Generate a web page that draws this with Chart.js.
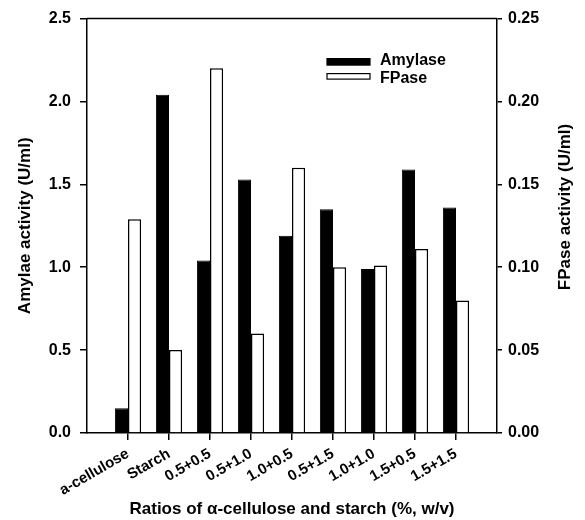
<!DOCTYPE html>
<html><head><meta charset="utf-8">
<script src="https://cdn.jsdelivr.net/npm/chart.js@4/dist/chart.umd.min.js"></script>
<style>html,body{margin:0;padding:0;background:#fff}#wrap{width:585px;height:520px}</style>
</head><body><div id="wrap"><canvas id="c" width="585" height="520"></canvas></div>
<script>
const categories = ['a-cellulose','Starch','0.5+0.5','0.5+1.0','1.0+0.5','0.5+1.5','1.0+1.0','1.5+0.5','1.5+1.5'];
const amylase = [0.15, 2.04, 1.04, 1.53, 1.19, 1.35, 0.99, 1.59, 1.36];
const fpase = [0.129, 0.05, 0.22, 0.06, 0.16, 0.10, 0.101, 0.111, 0.08];
const leftTicks = [0, 0.5, 1.0, 1.5, 2.0, 2.5];
const rightTicks = [0, 0.05, 0.10, 0.15, 0.20, 0.25];
const seriesNames = ['Amylase', 'FPase'];
const rightTitle = 'FPase activity (U/ml)';

const FONT = "'Liberation Sans', Arial, sans-serif";
const labels = [''].concat(categories, ['']);
const pad = arr => [null].concat(arr, [null]);

const frame = {
  id: 'frame',
  afterDraw(chart) {
    const {ctx, chartArea: a} = chart;
    ctx.save();
    ctx.strokeStyle = '#000';
    ctx.lineWidth = 1.5;
    ctx.beginPath();
    ctx.moveTo(a.left, a.top);
    ctx.lineTo(a.right, a.top);
    ctx.stroke();
    // legend
    const ds = chart.data.datasets;
    const bx = a.left + 240, bw = 43;
    const rows = [{y: a.top + 40, h: 6.5, ty: a.top + 42}, {y: a.top + 55, h: 5.5, ty: a.top + 60}];
    ds.forEach((d, i) => {
      const r = rows[i];
      ctx.fillStyle = d.backgroundColor;
      ctx.fillRect(bx, r.y, bw, r.h);
      ctx.lineWidth = 1.2;
      ctx.strokeStyle = '#000';
      ctx.strokeRect(bx, r.y, bw, r.h);
      ctx.fillStyle = '#000';
      ctx.font = "bold 16px " + FONT;
      ctx.textBaseline = 'middle';
      ctx.textAlign = 'left';
      ctx.fillText(d.label, bx + 53, r.ty);
    });
    // right axis title, reading bottom-to-top
    ctx.translate(565, 207);
    ctx.rotate(-Math.PI / 2);
    ctx.font = "bold 17px " + FONT;
    ctx.textAlign = 'center';
    ctx.textBaseline = 'middle';
    ctx.fillText(rightTitle, 0, 0);
    ctx.restore();
  }
};

new Chart(document.getElementById('c'), {
  type: 'bar',
  data: {
    labels: labels,
    datasets: [
      {label: seriesNames[0], data: pad(amylase), yAxisID: 'y', backgroundColor: '#000', borderColor: '#000', borderWidth: 1},
      {label: seriesNames[1], data: pad(fpase), yAxisID: 'y2', backgroundColor: '#fff', borderColor: '#000', borderWidth: 1.5}
    ]
  },
  plugins: [frame],
  options: {
    responsive: false,
    animation: false,
    layout: {padding: {top: 18, left: 0, right: 0, bottom: 0}},
    categoryPercentage: 0.64,
    barPercentage: 1.0,
    plugins: {legend: {display: false}, tooltip: {enabled: false}},
    scales: {
      x: {
        type: 'category',
        offset: false,
        afterFit(s) { s.height = 87; },
        grid: {offset: false, drawOnChartArea: false, drawTicks: true, tickLength: 7, lineWidth: 1.5,
               color: c => (c.index === 0 || c.index === labels.length - 1) ? 'rgba(0,0,0,0)' : '#000'},
        border: {display: true, color: '#000', width: 1.5},
        ticks: {autoSkip: false, minRotation: 30, maxRotation: 30, padding: 5, color: '#000',
                font: {family: FONT, size: 15, weight: 'bold'}},
        title: {display: true, text: 'Ratios of \u03b1-cellulose and starch (%, w/v)', color: '#000',
                font: {family: FONT, size: 17, weight: 'bold'}, padding: {top: 0, bottom: 0}}
      },
      y: {
        position: 'left',
        min: 0, max: 2.5,
        afterFit(s) { s.width = 87; },
        afterBuildTicks(s) { s.ticks = leftTicks.map(v => ({value: v})); },
        grid: {drawOnChartArea: false, drawTicks: true, tickLength: 7, lineWidth: 1.5, color: '#000'},
        border: {display: true, color: '#000', width: 1.5},
        ticks: {padding: 9, color: '#000', font: {family: FONT, size: 16, weight: 'bold'},
                callback: v => Number(v).toFixed(1)},
        title: {display: true, text: 'Amylae activity (U/ml)', color: '#000',
                font: {family: FONT, size: 17, weight: 'bold'}, padding: {top: 15, bottom: 0}}
      },
      y2: {
        position: 'right',
        min: 0, max: 0.25,
        afterFit(s) { s.width = 88; },
        afterBuildTicks(s) { s.ticks = rightTicks.map(v => ({value: v})); },
        grid: {drawOnChartArea: false, drawTicks: true, tickLength: 5, lineWidth: 1.5, color: '#000'},
        border: {display: true, color: '#000', width: 1.5},
        ticks: {padding: 6, color: '#000', font: {family: FONT, size: 16, weight: 'bold'},
                callback: v => Number(v).toFixed(2)},
        title: {display: false}
      }
    }
  }
});
</script>
</body></html>
